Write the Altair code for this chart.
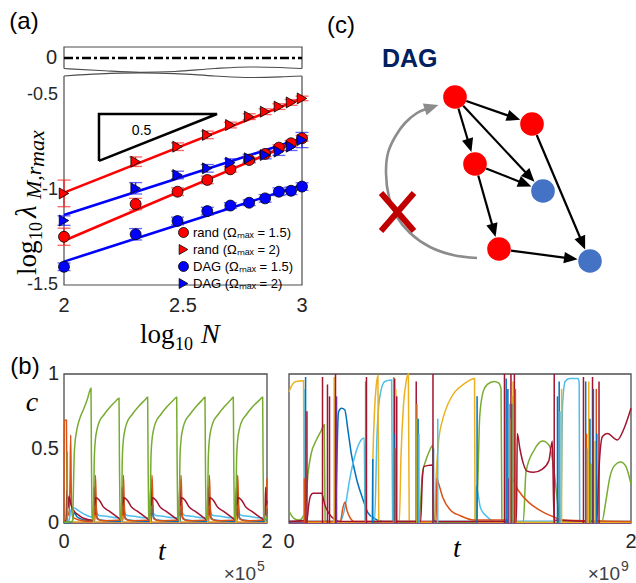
import math
import altair as alt
import pandas as pd

# ---------------- data: panel (a) ----------------
logN = [2.0, 2.301, 2.477, 2.602, 2.699, 2.778, 2.845, 2.903, 2.954, 3.0]
series_names = ["rand (Ωₘₐₓ = 1.5)", "rand (Ωₘₐₓ = 2)", "DAG (Ωₘₐₓ = 1.5)", "DAG (Ωₘₐₓ = 2)"]
series_colors = ["#FF0000", "#FF0000", "#0000FF", "#0000FF"]
series_shapes = ["circle", "triangle-right", "circle", "triangle-right"]
rand15 = [-1.246, -1.074, -1.009, -0.947, -0.891, -0.842, -0.81, -0.777, -0.754, -0.728]
rand2 = [-1.018, -0.851, -0.772, -0.71, -0.658, -0.614, -0.588, -0.561, -0.539, -0.518]
dag15 = [-1.404, -1.233, -1.163, -1.111, -1.082, -1.067, -1.044, -1.009, -1.004, -0.982]
dag2 = [-1.161, -0.991, -0.921, -0.886, -0.856, -0.833, -0.816, -0.798, -0.772, -0.737]
err_rand15 = [0.045, 0.03, 0.02, 0.02, 0.015, 0.015, 0.015, 0.015, 0.015, 0.015]
err_rand2 = [0.07, 0.025, 0.02, 0.02, 0.015, 0.015, 0.015, 0.015, 0.015, 0.012]
err_dag15 = [0.02, 0.03, 0.02, 0.02, 0.015, 0.015, 0.02, 0.02, 0.02, 0.02]
err_dag2 = [0.025, 0.03, 0.02, 0.02, 0.02, 0.02, 0.02, 0.02, 0.02, 0.04]
fit_x = [2.0, 3.0]
fit_rand15 = [-1.267, -0.733]
fit_rand2 = [-1.014, -0.518]
fit_dag15 = [-1.377, -0.974]
fit_dag2 = [-1.132, -0.728]
slope_x = [2.147, 2.147, 2.643, 2.147]
slope_y = [-0.847, -0.6, -0.6, -0.847]
a_xticks = [2, 2.5, 3]
a_xlabels = ["2", "2.5", "3"]
a_yticks = [-0.5, -1, -1.5]
a_ylabels = ["-0.5", "-1", "-1.5"]
# axis-break waves
wave_x = [2.0, 2.151, 2.319, 2.466, 2.634, 2.782, 2.908, 3.0]
strip_wave_y = [-0.955, -1.136, -1.3, -1.227, -0.955, -0.818, -0.864, -0.955]
main_wave_y = [-0.4, -0.389, -0.384, -0.387, -0.4, -0.408, -0.405, -0.4]

# ---------------- data: panel (b), left ----------------
bl_green_t = [0.0, 0.085, 0.092, 0.1, 0.108, 0.125, 0.141, 0.165, 0.19, 0.23, 0.266,
              0.270, 0.276, 0.286, 0.292, 0.298, 0.308, 0.326, 0.342, 0.392, 0.456, 0.516, 0.542,
              0.546, 0.552, 0.562, 0.568, 0.574, 0.584, 0.602, 0.618, 0.668, 0.732, 0.796, 0.824,
              0.828, 0.834, 0.844, 0.850, 0.856, 0.866, 0.884, 0.900, 0.950, 1.014, 1.080, 1.110,
              1.114, 1.120, 1.130, 1.136, 1.142, 1.152, 1.170, 1.186, 1.236, 1.300, 1.360, 1.389,
              1.393, 1.399, 1.409, 1.415, 1.421, 1.431, 1.449, 1.465, 1.515, 1.579, 1.640, 1.668,
              1.672, 1.678, 1.688, 1.694, 1.700, 1.710, 1.728, 1.744, 1.794, 1.858, 1.925, 1.957,
              1.961, 1.967, 1.977, 2.0]
bl_green_c = [0.005, 0.01, 0.2, 0.45, 0.535, 0.62, 0.669, 0.72, 0.758, 0.83, 0.904,
              0.45, 0.05, 0.02, 0.1, 0.42, 0.55, 0.63, 0.67, 0.725, 0.78, 0.822, 0.838,
              0.45, 0.05, 0.02, 0.1, 0.42, 0.55, 0.63, 0.67, 0.725, 0.78, 0.825, 0.844,
              0.45, 0.05, 0.02, 0.1, 0.42, 0.55, 0.63, 0.67, 0.725, 0.78, 0.826, 0.844,
              0.45, 0.05, 0.02, 0.1, 0.42, 0.55, 0.63, 0.67, 0.725, 0.78, 0.824, 0.844,
              0.45, 0.05, 0.02, 0.1, 0.42, 0.55, 0.63, 0.67, 0.725, 0.78, 0.824, 0.844,
              0.45, 0.05, 0.02, 0.1, 0.42, 0.55, 0.63, 0.67, 0.725, 0.78, 0.825, 0.844,
              0.45, 0.05, 0.02, 0.04]
bl_red_t = [0.0, 0.02, 0.03, 0.04, 0.05, 0.07, 0.1, 0.15, 0.2, 0.266,
            0.288, 0.296, 0.303, 0.312, 0.346, 0.386, 0.456, 0.526,
            0.564, 0.572, 0.579, 0.588, 0.622, 0.662, 0.732, 0.802,
            0.846, 0.854, 0.861, 0.870, 0.904, 0.944, 1.014, 1.084,
            1.132, 1.140, 1.147, 1.156, 1.190, 1.230, 1.300, 1.370,
            1.411, 1.419, 1.426, 1.435, 1.469, 1.509, 1.579, 1.649,
            1.690, 1.698, 1.705, 1.714, 1.748, 1.788, 1.858, 1.928,
            1.979, 1.987, 1.994, 2.0]
bl_red_c = [0.0, 0.02, 0.22, 0.1, 0.18, 0.12, 0.08, 0.05, 0.03, 0.02,
            0.02, 0.24, 0.12, 0.17, 0.155, 0.11, 0.075, 0.04,
            0.02, 0.24, 0.12, 0.17, 0.155, 0.11, 0.075, 0.04,
            0.02, 0.24, 0.12, 0.17, 0.155, 0.11, 0.075, 0.04,
            0.02, 0.24, 0.12, 0.17, 0.155, 0.11, 0.075, 0.04,
            0.02, 0.24, 0.12, 0.17, 0.155, 0.11, 0.075, 0.04,
            0.02, 0.24, 0.12, 0.17, 0.155, 0.11, 0.075, 0.04,
            0.02, 0.24, 0.12, 0.15]
bl_orange_t = [0.0, 0.003, 0.024, 0.03, 0.05, 0.06, 0.066, 0.072, 0.085, 0.15, 0.266,
               0.296, 0.304, 0.309, 0.316, 0.324, 0.386,
               0.572, 0.580, 0.585, 0.592, 0.600, 0.662,
               0.854, 0.862, 0.867, 0.874, 0.882, 0.944,
               1.140, 1.148, 1.153, 1.160, 1.168, 1.230,
               1.419, 1.427, 1.432, 1.439, 1.447, 1.509,
               1.698, 1.706, 1.711, 1.718, 1.726, 1.788,
               1.987, 1.995, 2.0]
bl_orange_c = [0.0, 0.69, 0.69, 0.1, 0.05, 0.3, 0.59, 0.2, 0.04, 0.02, 0.01,
               0.02, 0.2, 0.32, 0.18, 0.03, 0.015,
               0.02, 0.2, 0.32, 0.18, 0.03, 0.015,
               0.02, 0.2, 0.32, 0.18, 0.03, 0.015,
               0.02, 0.2, 0.32, 0.18, 0.03, 0.015,
               0.02, 0.2, 0.32, 0.18, 0.03, 0.015,
               0.02, 0.2, 0.32, 0.18, 0.03, 0.015,
               0.02, 0.2, 0.3]
bl_cyan_t = [0.0, 0.05, 0.07, 0.1, 0.15, 0.2, 0.266,
             0.296, 0.310, 0.321, 0.346, 0.416, 0.526,
             0.572, 0.586, 0.597, 0.622, 0.692, 0.802,
             0.854, 0.868, 0.879, 0.904, 0.974, 1.084,
             1.140, 1.154, 1.165, 1.190, 1.260, 1.370,
             1.419, 1.433, 1.444, 1.469, 1.539, 1.649,
             1.698, 1.712, 1.723, 1.748, 1.818, 1.928,
             1.987, 2.0]
bl_cyan_c = [0.0, 0.02, 0.09, 0.1, 0.08, 0.06, 0.04,
             0.035, 0.12, 0.07, 0.05, 0.045, 0.035,
             0.035, 0.12, 0.07, 0.05, 0.045, 0.035,
             0.035, 0.12, 0.07, 0.05, 0.045, 0.035,
             0.035, 0.12, 0.07, 0.05, 0.045, 0.035,
             0.035, 0.12, 0.07, 0.05, 0.045, 0.035,
             0.035, 0.12, 0.07, 0.05, 0.045, 0.035,
             0.035, 0.1]
bl_blue_t = [0.0, 0.08, 0.1, 0.13, 0.2, 0.266,
             0.301, 0.314, 0.324, 0.356, 0.526,
             0.577, 0.590, 0.600, 0.632, 0.802,
             0.859, 0.872, 0.882, 0.914, 1.084,
             1.145, 1.158, 1.168, 1.200, 1.370,
             1.424, 1.437, 1.447, 1.479, 1.649,
             1.703, 1.716, 1.726, 1.758, 1.928,
             1.992, 2.0]
bl_blue_c = [0.0, 0.01, 0.07, 0.04, 0.02, 0.012,
             0.012, 0.13, 0.04, 0.02, 0.012,
             0.012, 0.13, 0.04, 0.02, 0.012,
             0.012, 0.13, 0.04, 0.02, 0.012,
             0.012, 0.13, 0.04, 0.02, 0.012,
             0.012, 0.13, 0.04, 0.02, 0.012,
             0.012, 0.13, 0.04, 0.02, 0.012,
             0.012, 0.1]
bl_flat_t = [0.0, 2.0]
bl_yellow_c = [0.006, 0.006]
bl_purple_c = [0.003, 0.003]
bl_spike_t = [0.033, 0.294, 0.570, 0.852, 1.138, 1.417, 1.696, 1.985]
bl_spike_h = [0.48, 0.05, 0.05, 0.05, 0.05, 0.05, 0.05, 0.05]
bl_spike_col = ["green", "yellow", "yellow", "yellow", "yellow", "yellow", "yellow", "yellow"]

# ---------------- data: panel (b), right ----------------
br_yellow_t = [0, 0.02, 0.04, 0.085, 0.088, 0.1, 0.484, 0.49, 0.5, 0.51, 0.52, 0.525, 0.54,
               0.645, 0.655, 0.67, 0.685, 0.698, 0.703, 0.72,
               0.851, 0.86, 0.875, 0.9, 0.93, 0.97, 1.02, 1.085, 1.088, 1.1, 2.0]
br_yellow_c = [0.88, 0.93, 0.95, 0.955, 0.02, 0.005, 0.005, 0.4, 0.75, 0.92, 0.99, 0.02, 0.005,
               0.005, 0.45, 0.8, 0.95, 1.0, 0.02, 0.005,
               0.005, 0.3, 0.55, 0.7, 0.8, 0.88, 0.93, 0.97, 0.02, 0.005, 0.005]
br_green_t = [0, 0.03, 0.06, 0.093, 0.112, 0.13, 0.16, 0.19, 0.206, 0.211, 0.23,
              0.76, 0.77, 0.78, 0.8, 0.82, 0.84, 0.845, 0.86,
              1.095, 1.105, 1.115, 1.135, 1.16, 1.2, 1.225, 1.24, 1.245, 1.26,
              1.37, 1.386, 1.434, 1.483, 1.522, 1.551, 1.57, 1.585,
              1.83, 1.852, 1.875, 1.9, 1.94, 1.97, 2.0]
br_green_c = [0.08, 0.03, 0.02, 0.07, 0.34, 0.467, 0.557, 0.624, 0.66, 0.02, 0.005,
              0.005, 0.15, 0.33, 0.42, 0.48, 0.52, 0.02, 0.005,
              0.005, 0.3, 0.71, 0.88, 0.93, 0.95, 0.94, 0.9, 0.02, 0.005,
              0.005, 0.344, 0.49, 0.55, 0.52, 0.34, 0.14, 0.01,
              0.01, 0.14, 0.3, 0.38, 0.41, 0.38, 0.26]
br_cyan_t = [0, 0.3, 0.33, 0.356, 0.385, 0.424, 0.44, 0.445, 0.46,
             0.5, 0.515, 0.53, 0.56, 0.6, 0.606, 0.62,
             1.088, 1.095, 1.12, 1.16, 1.2,
             1.59, 1.6, 1.615, 1.64, 1.69, 1.697, 1.7, 1.72, 2.0]
br_cyan_c = [0.01, 0.01, 0.12, 0.3, 0.45, 0.56, 0.57, 0.02, 0.005,
             0.005, 0.6, 0.84, 0.95, 0.96, 0.02, 0.005,
             0.005, 0.25, 0.1, 0.04, 0.01,
             0.01, 0.8, 0.95, 0.97, 0.97, 0.94, 0.02, 0.005, 0.005]
br_blue_t = [0, 0.27, 0.278, 0.285, 0.29, 0.307, 0.326, 0.345, 0.365, 0.394, 0.432, 0.461, 0.5, 0.55, 2.0]
br_blue_c = [0.01, 0.01, 0.3, 0.65, 0.747, 0.77, 0.76, 0.62, 0.46, 0.3, 0.16, 0.07, 0.03, 0.01, 0.01]
br_red_t = [0, 0.105, 0.115, 0.125, 0.14, 0.19, 0.21, 0.25, 0.3,
            0.77, 0.78, 0.79, 0.84, 0.845, 0.86,
            1.33, 1.335, 1.35, 1.37, 1.39, 1.43, 1.48, 1.52, 1.54, 1.55,
            1.8, 1.81, 1.833, 1.862, 1.92, 1.96, 2.0]
br_red_c = [0.01, 0.02, 0.12, 0.18, 0.2, 0.2, 0.12, 0.04, 0.01,
            0.01, 0.3, 0.38, 0.39, 0.02, 0.01,
            0.01, 0.6, 0.5, 0.4, 0.35, 0.34, 0.36, 0.42, 0.55, 0.02,
            0.01, 0.3, 0.58, 0.6, 0.557, 0.636, 0.77]
br_orange_t = [0, 0.3, 0.315, 0.327, 0.34, 0.36, 0.38,
               0.86, 0.865, 0.871, 0.9, 0.949, 1.0, 1.08,
               1.29, 1.3, 1.34, 1.4, 1.46, 1.55, 1.6, 2.0]
br_orange_c = [0.01, 0.01, 0.1, 0.14, 0.08, 0.03, 0.01,
               0.01, 0.3, 0.28, 0.17, 0.08, 0.05, 0.02,
               0.02, 0.3, 0.22, 0.14, 0.09, 0.04, 0.02, 0.01]
br_purple_t = [0.0, 2.0]
br_purple_c = [0.004, 0.004]
br_spike_t = [0.094, 0.097, 0.105, 0.09,
              0.196, 0.225, 0.237, 0.264, 0.272, 0.278,
              0.448, 0.453, 0.49,
              0.612, 0.618, 0.62, 0.625, 0.63, 0.622,
              0.744, 0.748, 0.75, 0.755, 0.76,
              0.842, 0.845, 0.87,
              1.1, 1.26, 1.27, 1.28, 1.285, 1.29, 1.298, 1.3, 1.305, 1.31, 1.318, 1.324, 1.302,
              1.551, 1.57, 1.58, 1.585, 1.594,
              1.722, 1.735, 1.74, 1.745, 1.753, 1.76, 1.765, 1.775, 1.78, 1.79, 1.797, 1.8, 1.813]
br_spike_h = [0.90, 0.98, 0.75, 0.3,
              0.98, 0.93, 0.85, 0.98, 1.0, 0.85,
              0.95, 0.98, 0.43,
              0.98, 0.97, 0.6, 0.9, 0.85, 0.5,
              0.95, 0.7, 0.8, 0.7, 0.6,
              1.0, 0.5, 0.7,
              0.85, 1.0, 0.97, 0.9, 0.3, 0.8, 1.0, 0.7, 0.85, 0.95, 1.0, 0.9, 0.8,
              1.0, 0.85, 0.95, 0.75, 0.9,
              0.98, 0.95, 0.6, 0.5, 0.95, 0.7, 0.4, 0.98, 0.9, 0.55, 0.9, 0.6, 0.95]
br_spike_col = ["cyan", "blue", "red", "orange",
                "red", "red", "red", "yellow", "red", "purple",
                "green", "red", "blue",
                "green", "red", "blue", "yellow", "red", "orange",
                "red", "green", "yellow", "blue", "cyan",
                "red", "blue", "cyan",
                "blue", "red", "blue", "blue", "purple", "cyan", "red", "yellow", "green", "yellow", "red", "orange", "blue",
                "red", "blue", "blue", "cyan", "yellow",
                "red", "blue", "orange", "cyan", "yellow", "blue", "green", "red", "blue", "yellow", "orange", "blue", "red"]

# ---------------- data: panel (c) ----------------
node_x = [135, 212, 155, 223, 179, 270]
node_y = [97, 124, 164, 191, 249, 261]
node_col = ["#FF0000", "#FF0000", "#FF0000", "#4472C4", "#FF0000", "#4472C4"]
edge_from = [0, 0, 0, 2, 2, 1, 4]
edge_to = [1, 2, 3, 3, 4, 5, 5]
arc_x = [157, 133, 110, 90, 77, 69, 66, 68, 75, 85, 97, 106]
arc_y = [258, 255, 247, 233, 217, 197, 173, 153, 137, 123, 113, 109]
arc_tip = (118.5, 105)
cross_x = [61, 61]
cross_y = [193, 231]
cross_x2 = [94, 94]
cross_y2 = [231, 193]

# ---------------- styling ----------------
SANS = "Liberation Sans"
SERIF = "Liberation Serif"
TXT = "#262626"
FRAME = "#4d4d4d"
MAT = {"blue": "#0072BD", "orange": "#D95319", "yellow": "#EDB120", "purple": "#7E2F8E",
       "green": "#77AC30", "cyan": "#4DBEEE", "red": "#A2142F"}


def sc(dom, rng):
    return alt.Scale(domain=dom, range=rng, nice=False, zero=False)


A_X = sc([2, 3], [64, 302])
A_Y = sc([-1.5, -0.4], [285, 76])
S_Y = sc([-1, 1], [69, 47])
BL_X = sc([0, 2], [64, 267])
BR_X = sc([0, 2], [289, 631])
B_Y = sc([0, 1], [523, 374])
C_X = sc([0, 316], [320, 636])
C_Y = sc([0, 290], [0, 290])


def qx(f, s):
    return alt.X(f, type="quantitative", scale=s, axis=None)


def qy(f, s):
    return alt.Y(f, type="quantitative", scale=s, axis=None)


def line(xs, ys, xsc, ysc, color, width, **kw):
    df = pd.DataFrame({"x": xs, "y": ys, "i": list(range(len(xs)))})
    return alt.Chart(df).mark_line(color=color, strokeWidth=width, **kw).encode(
        x=qx("x", xsc), y=qy("y", ysc), order=alt.Order("i:Q"))


def label(text, x, y, size, font=SANS, color=TXT, align="center", baseline="alphabetic",
          angle=0, style="normal", weight="normal"):
    return alt.Chart(pd.DataFrame({"s": [text]})).mark_text(
        align=align, baseline=baseline, font=font, fontSize=size, color=color,
        fontStyle=style, fontWeight=weight, angle=angle).encode(
        x=alt.value(x), y=alt.value(y), text="s:N")


def xtick_text(vals, labs, xsc, y, size=20):
    df = pd.DataFrame({"v": vals, "s": labs})
    return alt.Chart(df).mark_text(font=SANS, fontSize=size, color=TXT, align="center",
                                   baseline="alphabetic").encode(
        x=qx("v", xsc), y=alt.value(y), text="s:N")


def ytick_text(vals, labs, ysc, x, size=20):
    df = pd.DataFrame({"v": vals, "s": labs})
    return alt.Chart(df).mark_text(font=SANS, fontSize=size, color=TXT, align="right",
                                   baseline="middle").encode(
        y=qy("v", ysc), x=alt.value(x), text="s:N")


def spikes(ts, hs, cols, xsc, ysc, width=1.5):
    df = pd.DataFrame({"t": ts, "h": hs, "z": [0.0] * len(ts), "col": [MAT[c] for c in cols]})
    return alt.Chart(df).mark_rule(strokeWidth=width).encode(
        x=qx("t", xsc), y=qy("z", ysc), y2="h", color=alt.Color("col:N", scale=None))


layers = []

# ================= panel (a) =================
layers.append(line(wave_x, strip_wave_y, A_X, S_Y, FRAME, 1.2, interpolate="monotone"))
layers.append(line([2.0, 2.0, 3.0, 3.0], [strip_wave_y[0], 1, 1, strip_wave_y[-1]], A_X, S_Y, FRAME, 1.2))
layers.append(line([2.0, 3.0], [0, 0], A_X, S_Y, "black", 2.6, strokeDash=[9, 3, 3, 3]))
layers.append(ytick_text([0], ["0"], S_Y, 57))
layers.append(line(wave_x, main_wave_y, A_X, A_Y, FRAME, 1.2, interpolate="monotone"))
layers.append(line([2.0, 2.0, 3.0, 3.0], [main_wave_y[0], -1.5, -1.5, main_wave_y[-1]], A_X, A_Y, FRAME, 1.2))

for fy, col in [(fit_rand2, "#FF0000"), (fit_rand15, "#FF0000"), (fit_dag2, "#0000FF"), (fit_dag15, "#0000FF")]:
    layers.append(line(fit_x, fy, A_X, A_Y, col, 2.6))

eb_rows = []
for vals, errs, col in [(rand15, err_rand15, "#FF2020"), (rand2, err_rand2, "#FF2020"),
                        (dag15, err_dag15, "#2020FF"), (dag2, err_dag2, "#2020FF")]:
    for xv, yv, ev in zip(logN, vals, errs):
        eb_rows.append({"x": xv, "lo": yv - ev, "hi": yv + ev, "col": col})
eb = pd.DataFrame(eb_rows)
layers.append(alt.Chart(eb).mark_rule(strokeWidth=1.3).encode(
    x=qx("x", A_X), y=qy("lo", A_Y), y2="hi", color=alt.Color("col:N", scale=None)))
for end in ["lo", "hi"]:
    layers.append(alt.Chart(eb).mark_tick(orient="horizontal", size=13, thickness=1.3).encode(
        x=qx("x", A_X), y=qy(end, A_Y), color=alt.Color("col:N", scale=None)))

pt_rows = []
for name, vals in zip(series_names, [rand15, rand2, dag15, dag2]):
    for xv, yv in zip(logN, vals):
        pt_rows.append({"x": xv, "y": yv, "series": name})
pts = pd.DataFrame(pt_rows)
leg = alt.Legend(orient="none", legendX=177, legendY=226, title=None, labelFont=SANS,
                 labelFontSize=13, labelColor="black", symbolStrokeColor="black",
                 symbolStrokeWidth=0.8, symbolSize=100, rowPadding=2, labelOffset=3,
                 labelLimit=250, padding=0)
layers.append(alt.Chart(pts).mark_point(filled=True, opacity=1, stroke="black", strokeWidth=0.8, size=120).encode(
    x=qx("x", A_X), y=qy("y", A_Y),
    color=alt.Color("series:N", scale=alt.Scale(domain=series_names, range=series_colors), legend=leg),
    shape=alt.Shape("series:N", scale=alt.Scale(domain=series_names, range=series_shapes), legend=leg)))

layers.append(line(slope_x, slope_y, A_X, A_Y, "black", 2.5, strokeJoin="miter"))
layers.append(alt.Chart(pd.DataFrame({"x": [2.326], "y": [-0.688], "s": ["0.5"]})).mark_text(
    font=SANS, fontSize=14, color="black", baseline="middle").encode(
    x=qx("x", A_X), y=qy("y", A_Y), text="s:N"))

layers.append(xtick_text(a_xticks, a_xlabels, A_X, 312))
layers.append(ytick_text(a_yticks, a_ylabels, A_Y, 58, size=18))

# axis titles of (a)
layers.append(label("log", 140, 343, 27, font=SERIF, color="black", align="left"))
layers.append(label("10", 175, 350, 18, font=SERIF, color="black", align="left"))
layers.append(label("N", 201, 343, 28, font=SERIF, color="black", align="left", style="italic"))
layers.append(label("log", 36, 275, 27, font=SERIF, color="black", align="left", angle=270))
layers.append(label("10", 42, 240, 18, font=SERIF, color="black", align="left", angle=270))
layers.append(label("λ", 36, 218, 29, font=SERIF, color="black", align="left", angle=270, style="italic"))
layers.append(label("M,r", 41, 199, 22, font=SERIF, color="black", align="left", angle=270, style="italic"))
layers.append(label("max", 44, 167, 22, font=SERIF, color="black", align="left", angle=270, style="italic"))

# ================= panel (b) =================
for xsc in (BL_X, BR_X):
    layers.append(alt.Chart(pd.DataFrame({"x": [0.0], "x2": [2.0], "y": [0.0], "y2": [1.0]})).mark_rect(
        fillOpacity=0, stroke=FRAME, strokeWidth=1.3).encode(
        x=qx("x", xsc), x2="x2", y=qy("y", B_Y), y2="y2"))

LW = 1.5
layers.append(line(bl_flat_t, bl_purple_c, BL_X, B_Y, MAT["purple"], LW))
layers.append(line(bl_flat_t, bl_yellow_c, BL_X, B_Y, MAT["yellow"], LW))
layers.append(line(bl_cyan_t, bl_cyan_c, BL_X, B_Y, MAT["cyan"], LW, interpolate="monotone"))
layers.append(line(bl_blue_t, bl_blue_c, BL_X, B_Y, MAT["blue"], LW, interpolate="monotone"))
layers.append(line(bl_orange_t, bl_orange_c, BL_X, B_Y, MAT["orange"], LW, interpolate="monotone"))
layers.append(line(bl_red_t, bl_red_c, BL_X, B_Y, MAT["red"], LW, interpolate="monotone"))
layers.append(spikes(bl_spike_t, bl_spike_h, bl_spike_col, BL_X, B_Y))
layers.append(line(bl_green_t, bl_green_c, BL_X, B_Y, MAT["green"], LW, interpolate="monotone"))

layers.append(line(br_purple_t, br_purple_c, BR_X, B_Y, MAT["purple"], 2))
layers.append(line(br_blue_t, br_blue_c, BR_X, B_Y, MAT["blue"], LW, interpolate="monotone"))
layers.append(line(br_cyan_t, br_cyan_c, BR_X, B_Y, MAT["cyan"], LW, interpolate="monotone"))
layers.append(line(br_green_t, br_green_c, BR_X, B_Y, MAT["green"], LW, interpolate="monotone"))
layers.append(line(br_yellow_t, br_yellow_c, BR_X, B_Y, MAT["yellow"], LW, interpolate="monotone"))
layers.append(line(br_orange_t, br_orange_c, BR_X, B_Y, MAT["orange"], LW, interpolate="monotone"))
layers.append(line(br_red_t, br_red_c, BR_X, B_Y, MAT["red"], LW, interpolate="monotone"))
layers.append(spikes(br_spike_t, br_spike_h, br_spike_col, BR_X, B_Y))

layers.append(ytick_text([0, 0.5, 1], ["0", "0.5", "1"], B_Y, 59))
layers.append(xtick_text([0, 2], ["0", "2"], BL_X, 548))
layers.append(xtick_text([0, 2], ["0", "2"], BR_X, 548))
layers.append(label("c", 32, 411, 28, font=SERIF, color="black", style="italic"))
layers.append(label("t", 162, 560, 28, font=SERIF, color="black", style="italic"))
layers.append(label("t", 457, 557, 28, font=SERIF, color="black", style="italic"))
layers.append(label("×10", 256, 580, 19, color="#404040", align="right"))
layers.append(label("5", 257, 571, 14, color="#404040", align="left"))
layers.append(label("×10", 620, 580, 19, color="#404040", align="right"))
layers.append(label("9", 621, 571, 14, color="#404040", align="left"))

# ================= panel (c) =================
edge_rows, head_rows = [], []
for a, b in zip(edge_from, edge_to):
    x1, y1, x2, y2 = node_x[a], node_y[a], node_x[b], node_y[b]
    L = math.hypot(x2 - x1, y2 - y1)
    dx, dy = (x2 - x1) / L, (y2 - y1) / L
    tx, ty = x2 - dx * 12.5, y2 - dy * 12.5
    edge_rows.append({"x": x1 + dx * 12, "y": y1 + dy * 12, "x2": tx - dx * 10, "y2": ty - dy * 10})
    head_rows.append({"x": tx - dx * 8, "y": ty - dy * 8,
                      "ang": math.degrees(math.atan2(dx, -dy)) % 360})
ARROW = "M0,-1L0.72,0.7L-0.72,0.7Z"

layers.append(line(arc_x, arc_y, C_X, C_Y, "#8c8c8c", 2.6, interpolate="catmull-rom"))
gdx, gdy = arc_tip[0] - arc_x[-1], arc_tip[1] - arc_y[-1]
gL = math.hypot(gdx, gdy)
gdx, gdy = gdx / gL, gdy / gL
ghead = pd.DataFrame({"x": [arc_tip[0] - gdx * 8.5], "y": [arc_tip[1] - gdy * 8.5],
                      "ang": [math.degrees(math.atan2(gdx, -gdy)) % 360]})
layers.append(alt.Chart(ghead).mark_point(shape=ARROW, filled=True, opacity=1, color="#8c8c8c", size=289).encode(
    x=qx("x", C_X), y=qy("y", C_Y), angle=alt.Angle("ang:Q", scale=None)))

layers.append(alt.Chart(pd.DataFrame(edge_rows)).mark_rule(color="black", strokeWidth=2.2).encode(
    x=qx("x", C_X), y=qy("y", C_Y), x2="x2", y2="y2"))
layers.append(alt.Chart(pd.DataFrame(head_rows)).mark_point(shape=ARROW, filled=True, opacity=1, color="black", size=256).encode(
    x=qx("x", C_X), y=qy("y", C_Y), angle=alt.Angle("ang:Q", scale=None)))
layers.append(alt.Chart(pd.DataFrame({"x": node_x, "y": node_y, "col": node_col})).mark_circle(opacity=1, size=560).encode(
    x=qx("x", C_X), y=qy("y", C_Y), color=alt.Color("col:N", scale=None)))
layers.append(alt.Chart(pd.DataFrame({"x": cross_x, "y": cross_y, "x2": cross_x2, "y2": cross_y2})).mark_rule(
    color="#C00000", strokeWidth=6).encode(x=qx("x", C_X), y=qy("y", C_Y), x2="x2", y2="y2"))
layers.append(label("DAG", 382, 67, 25, color="#002060", align="left", weight="bold"))

# panel labels
layers.append(label("(a)", 24, 29, 24, color="black"))
layers.append(label("(b)", 25, 374, 24, color="black"))
layers.append(label("(c)", 341, 33, 24, color="black"))

chart = alt.layer(*layers).resolve_scale(
    x="independent", y="independent", color="independent", shape="independent"
).properties(width=636, height=583, autosize=alt.AutoSizeParams(type="none"), padding=0,
             background="white").configure_view(stroke=None)

chart.save("out.html", embed_options={"renderer": "svg", "actions": False})
